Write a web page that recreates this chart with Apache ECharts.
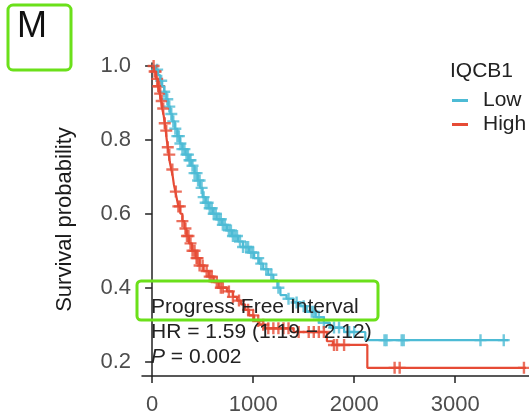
<!DOCTYPE html>
<html>
<head>
<meta charset="utf-8">
<script src="https://cdn.jsdelivr.net/npm/echarts@6/dist/echarts.min.js"></script>
<style>
  html, body { margin: 0; padding: 0; background: #fff; }
  #chart { width: 529px; height: 416px; }
</style>
</head>
<body>
<div id="chart"></div>
<script>
// Kaplan-Meier steps: time (days) and survival after the step
const lowTimes = [0, 30, 60, 80, 100, 120, 140, 160, 180, 200, 225, 250, 275, 300, 330, 360, 390, 420, 450, 475, 500, 530, 560, 600, 640, 690, 740, 790, 850, 900, 960, 1010, 1060, 1100, 1150, 1200, 1240, 1270, 1330, 1400, 1470, 1530, 1620, 1700, 1760, 1900, 2110]
const lowSurv = [1.0, 0.99, 0.975, 0.96, 0.945, 0.93, 0.91, 0.89, 0.87, 0.85, 0.83, 0.81, 0.79, 0.775, 0.76, 0.745, 0.73, 0.71, 0.69, 0.67, 0.645, 0.63, 0.615, 0.60, 0.585, 0.57, 0.555, 0.54, 0.525, 0.51, 0.495, 0.48, 0.465, 0.45, 0.435, 0.42, 0.40, 0.38, 0.37, 0.36, 0.35, 0.335, 0.32, 0.305, 0.292, 0.28, 0.258]
const lowEnd = 3525
const lowCensor = [50, 90, 120, 150, 170, 190, 210, 230, 250, 265, 280, 300, 320, 340, 355, 370, 380, 400, 420, 440, 455, 470, 490, 510, 530, 550, 570, 590, 610, 630, 660, 680, 700, 720, 760, 780, 800, 820, 840, 870, 900, 930, 950, 980, 1000, 1050, 1080, 1130, 1180, 1250, 1350, 1430, 1500, 1580, 1600, 1650, 1700, 1800, 1850, 1950, 2000, 2300, 2320, 2470, 2490, 3250, 3480]

const highTimes = [0, 20, 40, 60, 75, 90, 100, 115, 125, 135, 145, 155, 165, 175, 190, 205, 215, 230, 245, 260, 280, 300, 320, 340, 365, 395, 430, 470, 510, 560, 610, 660, 740, 800, 840, 880, 920, 960, 1010, 1060, 1120, 1400, 1730, 1790, 2130]
const highSurv = [1.0, 0.985, 0.965, 0.945, 0.925, 0.905, 0.885, 0.865, 0.845, 0.825, 0.80, 0.78, 0.76, 0.74, 0.72, 0.70, 0.68, 0.66, 0.64, 0.62, 0.60, 0.58, 0.56, 0.54, 0.52, 0.50, 0.48, 0.46, 0.445, 0.43, 0.415, 0.40, 0.39, 0.375, 0.365, 0.355, 0.34, 0.325, 0.31, 0.30, 0.29, 0.28, 0.255, 0.245, 0.183]
const highEnd = 3700
const highCensor = [15, 25, 35, 50, 60, 70, 80, 95, 110, 125, 140, 155, 170, 200, 235, 260, 275, 300, 330, 345, 360, 380, 400, 420, 440, 450, 470, 500, 540, 570, 590, 640, 680, 700, 760, 800, 860, 950, 1000, 1050, 1100, 1150, 1200, 1250, 1300, 1350, 1450, 1550, 1600, 1650, 1700, 1800, 1830, 1900, 2400, 2450, 3680]

const xTicks = [0, 1000, 2000, 3000]
const yTicks = [0.2, 0.4, 0.6, 0.8, 1.0]

const lowColor = '#4DBBD5'
const highColor = '#E64B35'
const plus = 'path://M4,0 H6 V4 H10 V6 H6 V10 H4 V6 H0 V4 H4 Z'

const stepData = (times, surv, end) => {
    const d = times.map((t, i) => [t, surv[i]])
    d.push([end, surv[surv.length - 1]])
    return d
}

// survival value of the curve at a censoring time
const survAt = (times, surv, t) => {
    let s = surv[0]
    for (let i = 0; i < times.length; i++) {
        if (times[i] <= t) s = surv[i]
    }
    return s
}

const censorData = (censor, times, surv) => censor.map(t => [t, survAt(times, surv, t)])

const font = 'Liberation Sans, Arial, sans-serif'

const chart = echarts.init(document.getElementById('chart'))
chart.setOption({
    animation: false,
    grid: { left: 142, right: 0, top: 63, bottom: 40 },
    xAxis: {
        type: 'value',
        min: -100,
        max: 3730,
        axisLine: { lineStyle: { color: '#222', width: 1.5 } },
        axisTick: { length: 7, lineStyle: { color: '#222', width: 1.5 }, customValues: xTicks },
        axisLabel: {
            customValues: xTicks, margin: 18, fontSize: 22, color: '#4d4d4d', fontFamily: font,
            formatter: v => String(v)
        },
        splitLine: { show: false }
    },
    yAxis: {
        type: 'value',
        min: 0.161,
        max: 1.008,
        name: 'Survival probability',
        nameLocation: 'middle',
        nameGap: 66,
        nameTextStyle: { fontSize: 22, color: '#1a1a1a', fontFamily: font },
        axisLine: { show: true, lineStyle: { color: '#222', width: 1.5 } },
        axisTick: { show: true, length: 7, lineStyle: { color: '#222', width: 1.5 }, customValues: yTicks },
        axisLabel: {
            customValues: yTicks,
            margin: 11,
            fontSize: 22,
            color: '#4d4d4d',
            fontFamily: font,
            formatter: v => v.toFixed(1)
        },
        splitLine: { show: false }
    },
    legend: {
        orient: 'vertical',
        left: 452,
        top: 90,
        padding: 0,
        itemWidth: 16,
        itemHeight: 3,
        itemGap: 3,
        textStyle: { fontSize: 21, color: '#222', fontFamily: font, padding: [0, 0, 0, 10] },
        data: [{ name: 'Low', icon: 'rect' }, { name: 'High', icon: 'rect' }]
    },
    series: [
        {
            name: 'Low', type: 'line', step: 'end', symbol: 'none',
            color: lowColor, lineStyle: { width: 2.2, color: lowColor },
            data: stepData(lowTimes, lowSurv, lowEnd)
        },
        {
            name: 'High', type: 'line', step: 'end', symbol: 'none',
            color: highColor, lineStyle: { width: 2.2, color: highColor },
            data: stepData(highTimes, highSurv, highEnd)
        },
        {
            name: 'Low censored', type: 'scatter', symbol: plus, symbolSize: 12,
            itemStyle: { color: lowColor },
            data: censorData(lowCensor, lowTimes, lowSurv)
        },
        {
            name: 'High censored', type: 'scatter', symbol: plus, symbolSize: 12,
            itemStyle: { color: highColor },
            data: censorData(highCensor, highTimes, highSurv)
        }
    ],
    graphic: [
        {
            type: 'rect', z: 100,
            shape: { x: 8, y: 5, width: 63, height: 65, r: 5 },
            style: { fill: 'none', stroke: '#6be01a', lineWidth: 3 }
        },
        {
            type: 'text', z: 100, left: 17, top: 9,
            style: { text: 'M', fontSize: 36, fill: '#111', fontFamily: font }
        },
        {
            type: 'text', z: 100, left: 450, top: 61,
            style: { text: 'IQCB1', fontSize: 21, fill: '#222', fontFamily: font }
        },
        {
            type: 'text', z: 100, left: 151, top: 297,
            style: { text: 'Progress Free Interval', fontSize: 21, fill: '#222', fontFamily: font }
        },
        {
            type: 'text', z: 100, left: 151, top: 322,
            style: { text: 'HR = 1.59 (1.19 − 2.12)', fontSize: 21, fill: '#222', fontFamily: font }
        },
        {
            type: 'text', z: 100, left: 151, top: 347,
            style: {
                text: '{i|P} = 0.002',
                fontSize: 21, fill: '#222', fontFamily: font,
                rich: { i: { fontStyle: 'italic', fontSize: 21, fill: '#222', fontFamily: font } }
            }
        },
        {
            type: 'rect', z: 100,
            shape: { x: 137, y: 281, width: 241, height: 39, r: 4 },
            style: { fill: 'none', stroke: '#6be01a', lineWidth: 3 }
        }
    ]
})
</script>
</body>
</html>
